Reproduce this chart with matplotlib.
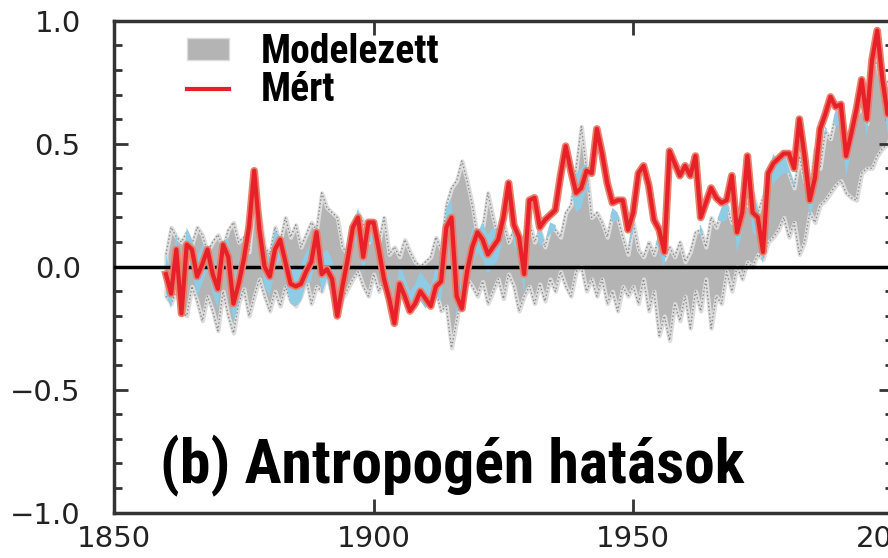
import matplotlib
matplotlib.use("Agg")
import matplotlib.pyplot as plt
from matplotlib import font_manager
from matplotlib.patches import Patch
from matplotlib.lines import Line2D
from matplotlib.ticker import MultipleLocator
import numpy as np

years = np.arange(1860, 2001)

observed = [
    -0.03, -0.11, 0.07, -0.19, 0.09, 0.07, -0.04, 0.01, 0.07, -0.03,   # 1860-1869
    -0.09, 0.09, 0.04, -0.15, -0.07, 0.03, 0.16, 0.39, 0.15, 0.00,     # 1870-1879
    -0.04, 0.07, 0.11, 0.02, -0.07, -0.08, -0.07, -0.02, 0.02, 0.14,   # 1880-1889
    -0.03, -0.01, -0.05, -0.20, -0.08, 0.03, 0.16, 0.20, 0.04, 0.18,   # 1890-1899
    0.18, 0.07, -0.05, -0.13, -0.23, -0.07, -0.12, -0.18, -0.15, -0.10,  # 1900-1909
    -0.13, -0.16, -0.08, -0.06, 0.16, 0.20, -0.12, -0.17, -0.02, 0.08,   # 1910-1919
    0.14, 0.11, 0.05, 0.08, 0.11, 0.20, 0.34, 0.17, 0.12, -0.03,       # 1920-1929
    0.27, 0.28, 0.16, 0.19, 0.21, 0.23, 0.37, 0.49, 0.39, 0.30,        # 1930-1939
    0.32, 0.39, 0.38, 0.56, 0.46, 0.34, 0.26, 0.27, 0.27, 0.15,        # 1940-1949
    0.22, 0.38, 0.41, 0.33, 0.19, 0.15, 0.06, 0.47, 0.42, 0.37,        # 1950-1959
    0.41, 0.37, 0.45, 0.20, 0.26, 0.32, 0.28, 0.26, 0.27, 0.37,        # 1960-1969
    0.14, 0.22, 0.45, 0.22, 0.20, 0.06, 0.38, 0.42, 0.44, 0.46,        # 1970-1979
    0.46, 0.40, 0.60, 0.45, 0.27, 0.36, 0.56, 0.62, 0.69, 0.65,        # 1980-1989
    0.66, 0.45, 0.54, 0.64, 0.76, 0.60, 0.84, 0.96, 0.76, 0.62,        # 1990-1999
    0.70,                                                              # 2000
]

# model ensemble range (Modelezett), upper and lower edge
model_upper = [
    0.05, 0.16, 0.12, 0.10, 0.14, 0.09, 0.16, 0.13, 0.06, 0.10,
    0.13, 0.08, 0.15, 0.18, 0.10, 0.12, 0.06, 0.28, 0.22, 0.08,
    0.05, 0.16, 0.10, 0.20, 0.12, 0.17, 0.08, 0.13, 0.18, 0.15,
    0.30, 0.24, 0.22, 0.20, 0.08, 0.05, 0.12, 0.22, 0.18, 0.10,
    0.15, 0.10, 0.20, 0.05, 0.08, 0.04, 0.11, 0.06, 0.02, 0.00,
    0.02, 0.04, 0.12, 0.07, 0.25, 0.32, 0.35, 0.43, 0.35, 0.25,
    0.12, 0.16, 0.30, 0.20, 0.12, 0.18, 0.10, 0.15, 0.08, 0.12,
    0.18, 0.10, 0.15, 0.08, 0.16, 0.15, 0.12, 0.22, 0.25, 0.40,
    0.57, 0.40, 0.20, 0.22, 0.18, 0.12, 0.22, 0.20, 0.12, 0.05,
    0.18, 0.07, 0.04, 0.10, 0.05, 0.12, 0.03, 0.08, 0.04, 0.10,
    0.02, 0.06, 0.14, 0.15, 0.08, 0.20, 0.16, 0.22, 0.25, 0.18,
    0.20, 0.28, 0.25, 0.30, 0.22, 0.28, 0.35, 0.44, 0.40, 0.45,
    0.38, 0.32, 0.45, 0.35, 0.30, 0.48, 0.40, 0.55, 0.52, 0.62,
    0.60, 0.48, 0.55, 0.62, 0.65, 0.58, 0.85, 0.82, 0.72, 0.75,
    0.78,
]
model_lower = [
    -0.12, -0.15, -0.10, -0.18, -0.20, -0.08, -0.14, -0.22, -0.12, -0.18,
    -0.26, -0.10, -0.20, -0.27, -0.15, -0.09, -0.20, -0.12, -0.05, -0.12,
    -0.18, -0.10, -0.16, -0.08, -0.14, -0.16, -0.12, -0.05, -0.15, -0.08,
    -0.10, -0.03, -0.12, -0.20, -0.13, -0.09, -0.05, -0.02, -0.08, -0.12,
    -0.03, -0.10, -0.05, -0.16, -0.22, -0.12, -0.08, -0.18, -0.10, -0.12,
    -0.15, -0.12, -0.10, -0.18, -0.16, -0.33, -0.22, -0.10, -0.05, -0.08,
    -0.12, -0.06, -0.15, -0.10, -0.05, -0.13, -0.03, -0.08, -0.18, -0.12,
    -0.08, -0.15, -0.07, -0.14, -0.05, -0.10, -0.02, -0.08, -0.12, -0.02,
    0.00, -0.10, -0.05, -0.12, -0.05, -0.15, -0.10, -0.18, -0.08, -0.12,
    -0.08, -0.15, -0.05, -0.18, -0.10, -0.28, -0.20, -0.30, -0.15, -0.22,
    -0.12, -0.25, -0.10, -0.18, -0.05, -0.25, -0.12, -0.15, -0.02, -0.10,
    0.00, -0.05, 0.02, 0.00, 0.05, 0.03, 0.10, 0.12, 0.15, 0.20,
    0.12, 0.18, 0.05, 0.10, 0.22, 0.18, 0.25, 0.27, 0.30, 0.33,
    0.35, 0.30, 0.28, 0.27, 0.38, 0.40, 0.40, 0.45, 0.48, 0.50,
    0.55,
]

obs = np.array(observed)
lo = np.array(model_lower)
hi = np.array(model_upper)

# pick a condensed bold face if one is installed
installed = {f.name for f in font_manager.fontManager.ttflist}
narrow = None
for name in ["Liberation Sans Narrow", "Roboto Condensed", "Open Sans Condensed",
             "Noto Sans Condensed", "DejaVu Sans Condensed", "Arial Narrow"]:
    if name in installed:
        narrow = name
        break
if narrow is None:
    narrow = "Liberation Sans"
bold_font = [narrow, "Liberation Sans", "DejaVu Sans"]
wide = narrow == "Liberation Sans"

fig = plt.figure(figsize=(8.88, 5.58), dpi=100)
ax = fig.add_axes([0.1284, 0.0812, 0.877, 0.8817])

# gray model band with a pale halo and dotted darker edges
ax.fill_between(years, lo, hi, facecolor="#b4b4b4", edgecolor="#dcdcdc", linewidth=3, zorder=1)
ax.plot(years, hi, color="#8a8a8a", lw=1, ls=":", zorder=1.5)
ax.plot(years, lo, color="#8a8a8a", lw=1, ls=":", zorder=1.5)

# light blue where the observations sit inside the model band
blue_lo = np.maximum(obs - 0.08, lo - 0.02)
blue_hi = np.minimum(obs + 0.08, hi + 0.02)
ax.fill_between(years, blue_lo, blue_hi, where=blue_lo < blue_hi, interpolate=True,
                color="#8ecbe4", linewidth=0, zorder=2)

ax.axhline(0, color="black", lw=2.5, zorder=3)

ax.plot(years, obs, color="#e8806a", lw=5.5, zorder=4)
ax.plot(years, obs, color="#e8202a", lw=3, zorder=5)

ax.set_xlim(1850, 2000)
ax.set_ylim(-1.0, 1.0)
ax.set_xticks([1850, 1900, 1950, 2000])
ax.set_yticks([-1.0, -0.5, 0.0, 0.5, 1.0])
ax.set_yticklabels(["\u22121.0", "\u22120.5", "0.0", "0.5", "1.0"])
ax.yaxis.set_minor_locator(MultipleLocator(0.1))
ax.tick_params(which="both", direction="in", top=True, right=True, color="#333333", width=2)
ax.tick_params(which="major", length=10, labelsize=21, colors="#333333", labelcolor="#222222")
ax.tick_params(axis="y", which="major", pad=24)
ax.tick_params(axis="x", which="major", pad=9)
ax.tick_params(which="minor", length=6)
for s in ax.spines.values():
    s.set_linewidth(2.5)
    s.set_color("#333333")

handles = [Patch(facecolor="#b4b4b4", edgecolor="#dcdcdc"),
           Line2D([], [], color="#e8202a", lw=3)]
leg = ax.legend(handles, ["Modelezett", "M\u00e9rt"], loc="upper left",
                bbox_to_anchor=(0.094, 0.975), frameon=False, borderpad=0, borderaxespad=0,
                handlelength=1.05, handleheight=0.45, handletextpad=0.8, labelspacing=0.0,
                prop={"family": bold_font, "weight": "bold", "size": 25 if wide else 28.5})

ax.text(0.059, 0.06, "(b) Antropog\u00e9n hat\u00e1sok", transform=ax.transAxes,
        family=bold_font, weight="bold", fontsize=38 if wide else 44.5,
        va="baseline", ha="left")

fig.savefig("out.png", dpi=100)
